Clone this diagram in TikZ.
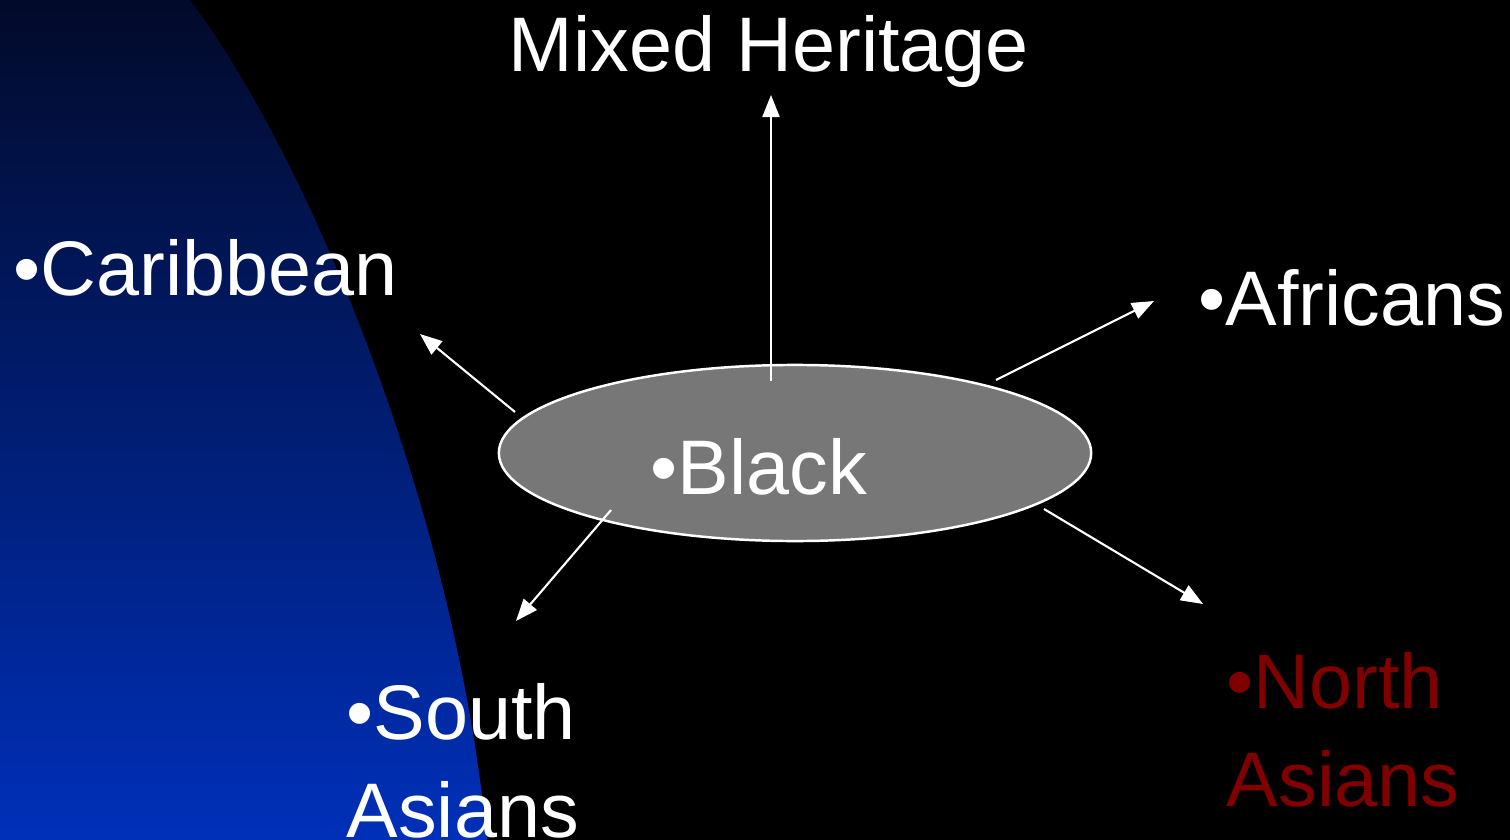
\documentclass[tikz,border=0pt]{standalone}
\usepackage{fontspec}
\setmainfont{Liberation Sans}
\usetikzlibrary{arrows.meta,shapes.geometric}
\definecolor{navytop}{RGB}{2,10,42}
\definecolor{bluebot}{RGB}{0,48,185}
\definecolor{darkred}{RGB}{128,0,0}
\definecolor{ovalgray}{RGB}{119,119,119}
\begin{document}
\begin{tikzpicture}[x=0.01cm,y=-0.01cm,
  lbl/.style={font=\fontsize{22}{27.6}\selectfont, text=white, inner sep=0pt, anchor=base west, align=left},
  arr/.style={draw=white, line width=0.6pt, -{Triangle[length=0.22cm,width=0.17cm]}},
  oval/.style={ellipse, draw=white, line width=0.7pt, fill=ovalgray, minimum width=5.92cm, minimum height=1.76cm, inner sep=0pt}]
\fill[black] (0,0) rectangle (1510,840);
\useasboundingbox (0,0) rectangle (1510,840);
\shade[top color=navytop, bottom color=bluebot] (0,0) -- (190,0) .. controls (310,160) and (455,510) .. (487,840) -- (0,840) -- cycle;
% central oval
\node[oval] (black) at (795,453) {};
\node[lbl] (blacktxt) at (650,494) {•Black};
% labels
\node[lbl] (mixed) at (508,72) {Mixed Heritage};
\node[lbl] (carib) at (13,295) {•Caribbean};
\node[lbl] (afr) at (1198,326) {•Africans};
\node[lbl] (south) at (346,837) {•South\\Asians};
\node[lbl, text=darkred] (north) at (1226,806) {•North\\Asians};
% arrow ends
\coordinate (s1) at (771,381); \coordinate (t1) at (771,95);
\coordinate (s2) at (515,412); \coordinate (t2) at (420,334);
\coordinate (s3) at (996,380); \coordinate (t3) at (1154,301);
\coordinate (s4) at (611,510); \coordinate (t4) at (516,621);
\coordinate (s5) at (1044,509); \coordinate (t5) at (1203,604);
\draw[arr] (s1) -- (t1);
\draw[arr] (s2) -- (t2);
\draw[arr] (s3) -- (t3);
\draw[arr] (s4) -- (t4);
\draw[arr] (s5) -- (t5);
\end{tikzpicture}
\end{document}
